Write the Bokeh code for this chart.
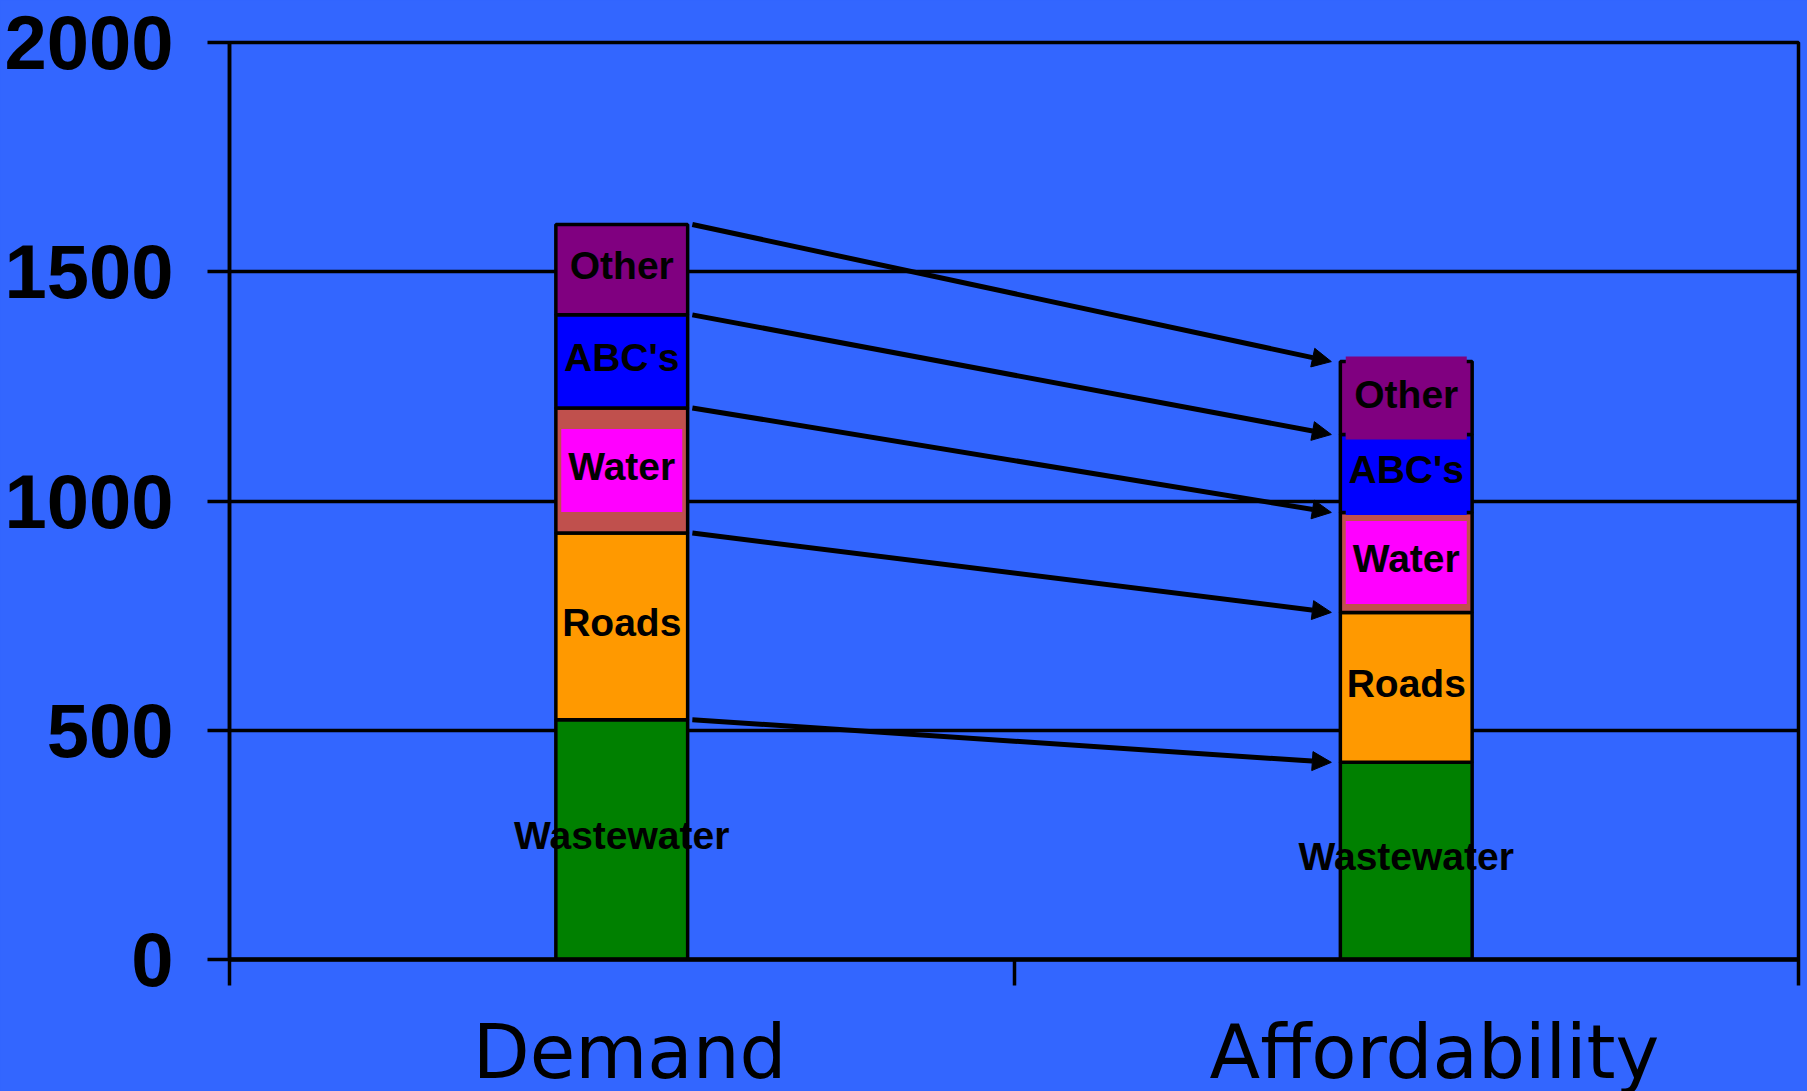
from bokeh.plotting import figure
from bokeh.models import Range1d, FixedTicker, Arrow, NormalHead, ColumnDataSource
from bokeh.core.properties import value
from bokeh.embed import file_html
from bokeh.resources import INLINE

# ---- data ----
categories = ["Demand", "Affordability"]
segments = ["Wastewater", "Roads", "Water", "ABC's", "Other"]
wastewater = [523, 430]
roads = [407, 327]
water = [273, 218]
abcs = [203, 170]
other = [197, 159]
y_ticks = [0, 500, 1000, 1500, 2000]

seg_values = [wastewater, roads, water, abcs, other]
seg_colors = ["#008000", "#FF9900", "#C0504D", "#0000FF", "#800080"]
box_colors = {"Water": "#FF00FF", "ABC's": "#0000FF", "Other": "#800080"}

BG = "#3366FF"
SANS = "Liberation Sans"
bar_w = 0.168
label_shift = [0.010, 0.036]   # small horizontal nudge of category labels (styling)

xs = [i + 0.5 for i in range(len(categories))]

p = figure(frame_width=1569, frame_height=917, x_range=Range1d(0, len(categories)),
           y_range=Range1d(y_ticks[0], y_ticks[-1]),
           output_backend="svg", toolbar_location=None,
           min_border_left=229, min_border_right=9, min_border_top=42,
           min_border_bottom=10)
p.background_fill_color = BG
p.border_fill_color = BG
p.outline_line_color = "black"
p.outline_line_width = 3.5

# stacked bars
bottoms = [0.0] * len(categories)
bounds = []  # (bottom, top) per segment
for name, vals, col in zip(segments, seg_values, seg_colors):
    tops = [b + v for b, v in zip(bottoms, vals)]
    src = ColumnDataSource(dict(x=xs, bottom=bottoms, top=tops))
    p.vbar(x="x", bottom="bottom", top="top", width=bar_w, source=src,
           fill_color=col, line_color="black", line_width=3.5)
    bounds.append((list(bottoms), tops))
    bottoms = tops

# label boxes
for name, (bot, top) in zip(segments, bounds):
    if name in box_colors:
        mids = [(b + t) / 2 for b, t in zip(bot, top)]
        p.rect(x=xs, y=mids, width=121, height=83, width_units="screen",
               height_units="screen", fill_color=box_colors[name], line_color=None)

# segment labels
for name, (bot, top) in zip(segments, bounds):
    mids = [(b + t) / 2 for b, t in zip(bot, top)]
    p.text(x=xs, y=mids, text=[name] * len(xs), text_align="center",
           text_baseline="middle", text_font=value(SANS), text_font_style="bold",
           text_font_size="39px", text_color="black", y_offset=-4)

# arrows between matching segment tops
for (bot, top) in bounds:
    p.add_layout(Arrow(end=NormalHead(size=19, fill_color="black", line_color="black"),
                       x_start=xs[0] + bar_w / 2 + 0.006, y_start=top[0],
                       x_end=xs[1] - bar_w / 2 - 0.0115, y_end=top[1],
                       line_color="black", line_width=5))

# axes
p.yaxis.ticker = FixedTicker(ticks=y_ticks)
p.yaxis.major_tick_out = 22
p.yaxis.major_tick_in = 0
p.yaxis.minor_tick_line_color = None
p.yaxis.axis_line_width = 3.5
p.yaxis.major_tick_line_width = 3.5
p.yaxis.major_label_text_font = SANS
p.yaxis.major_label_text_font_style = "bold"
p.yaxis.major_label_text_font_size = "76px"
p.yaxis.major_label_text_color = "black"
p.yaxis.major_label_standoff = 34

label_pos = [x + s for x, s in zip(xs, label_shift)]
p.xaxis.ticker = FixedTicker(ticks=label_pos, minor_ticks=list(range(len(categories) + 1)))
p.xaxis.major_label_overrides = {x: c for x, c in zip(label_pos, categories)}
p.xaxis.major_tick_line_color = None
p.xaxis.major_tick_out = 0
p.xaxis.minor_tick_out = 26
p.xaxis.minor_tick_in = 0
p.xaxis.minor_tick_line_width = 3.5
p.xaxis.minor_tick_line_color = "black"
p.xaxis.axis_line_width = 4.5
p.xaxis.major_label_text_font = "DejaVu Sans"
p.xaxis.major_label_text_font_size = "74px"
p.xaxis.major_label_text_color = "black"
p.xaxis.major_label_standoff = 23

p.ygrid.ticker = FixedTicker(ticks=y_ticks)
p.ygrid.grid_line_color = "black"
p.ygrid.grid_line_width = 3.5
p.xgrid.grid_line_color = None

html = file_html(p, INLINE)
html = html.replace("</head>",
                    "<style>html,body{background:#3366FF;overflow:hidden;}</style></head>")
open("out.html", "w").write(html)
